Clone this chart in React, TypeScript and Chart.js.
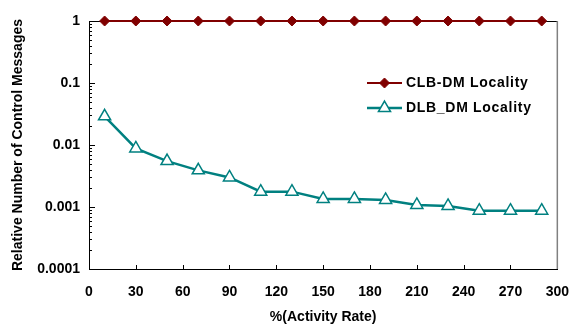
import React, { useEffect, useRef } from 'react';
import { Chart, registerables } from 'chart.js';

Chart.register(...registerables);

const xValues = [10, 30, 50, 70, 90, 110, 130, 150, 170, 190, 210, 230, 250, 270, 290];
const clbValues = [1, 1, 1, 1, 1, 1, 1, 1, 1, 1, 1, 1, 1, 1, 1];
const dlbValues = [0.029, 0.0088, 0.0055, 0.0039, 0.003, 0.00177, 0.00177, 0.00135, 0.00135, 0.0013, 0.00108, 0.00104, 0.00087, 0.00087, 0.00087];
const seriesNames = ['CLB-DM Locality', 'DLB_DM Locality'];
const xTicks = [0, 30, 60, 90, 120, 150, 180, 210, 240, 270, 300];
const yTickValues = [0.0001, 0.001, 0.01, 0.1, 1];
const yTickLabels = ['0.0001', '0.001', '0.01', '0.1', '1'];
const xTitle = '%(Activity Rate)';
const yTitle = 'Relative Number of Control Messages';

const FONT_FAMILY = "'Liberation Sans', Arial, sans-serif";
const RED = '#800000';
const TEAL = '#008080';

const decorPlugin = {
  id: 'decor',
  beforeDatasetsDraw(chart: any) {
    const { ctx, chartArea: a, scales } = chart;
    const y = scales.y;
    const x = scales.x;
    ctx.save();
    ctx.strokeStyle = '#000';
    ctx.lineWidth = 1;
    ctx.beginPath();
    for (let d = 0; d < yTickValues.length; d++) {
      const base = yTickValues[d];
      const py = Math.round(y.getPixelForValue(base)) + 0.5;
      ctx.moveTo(a.left, py);
      ctx.lineTo(a.left + 6, py);
      if (d < yTickValues.length - 1) {
        for (let k = 2; k <= 9; k++) {
          const p = Math.round(y.getPixelForValue(base * k)) + 0.5;
          ctx.moveTo(a.left, p);
          ctx.lineTo(a.left + 3, p);
        }
      }
    }
    for (const t of xTicks) {
      const px = Math.round(x.getPixelForValue(t)) + 0.5;
      ctx.moveTo(px, a.bottom);
      ctx.lineTo(px, a.bottom - 4);
    }
    ctx.stroke();
    // top border
    ctx.beginPath();
    ctx.moveTo(a.left, Math.round(a.top) + 0.5);
    ctx.lineTo(a.right, Math.round(a.top) + 0.5);
    ctx.stroke();
    // right border
    ctx.strokeStyle = '#808080';
    ctx.lineWidth = 1.5;
    ctx.beginPath();
    ctx.moveTo(a.right, a.top);
    ctx.lineTo(a.right, a.bottom);
    ctx.stroke();
    ctx.restore();
  },
  afterDraw(chart: any) {
    const { ctx } = chart;
    const rows = [83, 108];
    const x0 = 367;
    const x1 = 402;
    const mx = (x0 + x1) / 2;
    ctx.save();
    chart.data.datasets.forEach((ds: any, i: number) => {
      const yy = rows[i];
      ctx.strokeStyle = ds.borderColor;
      ctx.lineWidth = ds.borderWidth;
      ctx.beginPath();
      ctx.moveTo(x0, yy);
      ctx.lineTo(x1, yy);
      ctx.stroke();
      ctx.beginPath();
      const r = ds.pointRadius;
      if (ds.pointStyle === 'rectRot') {
        ctx.moveTo(mx - r, yy);
        ctx.lineTo(mx, yy - r);
        ctx.lineTo(mx + r, yy);
        ctx.lineTo(mx, yy + r);
      } else {
        ctx.moveTo(mx, yy - r);
        ctx.lineTo(mx + Math.sin((2 * Math.PI) / 3) * r, yy - Math.cos((2 * Math.PI) / 3) * r);
        ctx.lineTo(mx + Math.sin((4 * Math.PI) / 3) * r, yy - Math.cos((4 * Math.PI) / 3) * r);
      }
      ctx.closePath();
      ctx.fillStyle = ds.pointBackgroundColor;
      ctx.fill();
      ctx.strokeStyle = ds.pointBorderColor;
      ctx.lineWidth = ds.pointBorderWidth;
      ctx.stroke();
      ctx.fillStyle = '#000';
      ctx.font = `bold 14px ${FONT_FAMILY}`;
      (ctx as any).letterSpacing = '0.7px';
      ctx.textAlign = 'left';
      ctx.textBaseline = 'middle';
      ctx.fillText(ds.label, 406, yy);
      (ctx as any).letterSpacing = '0px';
    });
    ctx.restore();
  },
};

export default function App() {
  const canvasRef = useRef<HTMLCanvasElement | null>(null);

  useEffect(() => {
    document.body.style.margin = '0';
    const canvas = canvasRef.current;
    if (!canvas) return;
    const font = { family: FONT_FAMILY, size: 14, weight: 'bold' as const };
    const chart = new Chart(canvas, {
      type: 'line',
      data: {
        datasets: [
          {
            label: seriesNames[0],
            data: xValues.map((x, i) => ({ x, y: clbValues[i] })),
            borderColor: RED,
            backgroundColor: RED,
            borderWidth: 2,
            pointStyle: 'rectRot',
            pointRadius: 5,
            pointBackgroundColor: RED,
            pointBorderColor: RED,
            pointBorderWidth: 1,
            clip: false,
            tension: 0,
          },
          {
            label: seriesNames[1],
            data: xValues.map((x, i) => ({ x, y: dlbValues[i] })),
            borderColor: TEAL,
            backgroundColor: '#ffffff',
            borderWidth: 2.5,
            pointStyle: 'triangle',
            pointRadius: 7,
            pointBackgroundColor: '#ffffff',
            pointBorderColor: TEAL,
            pointBorderWidth: 1.5,
            clip: false,
            tension: 0,
          },
        ] as any,
      },
      options: {
        animation: false,
        responsive: false,
        layout: { padding: { top: 21, right: 15, left: 0, bottom: 0 } },
        plugins: {
          legend: { display: false },
          tooltip: { enabled: false },
        },
        scales: {
          x: {
            type: 'linear',
            min: 0,
            max: 300,
            afterBuildTicks: (s: any) => {
              s.ticks = xTicks.map((v) => ({ value: v }));
            },
            afterFit: (s: any) => {
              s.height = 57;
            },
            grid: { display: false, drawTicks: false },
            border: { display: true, color: '#000', width: 1 },
            ticks: { font, color: '#000', padding: 15, maxRotation: 0, autoSkip: false },
            title: { display: true, text: xTitle, font, color: '#000', padding: { top: 0, bottom: 0 } },
          },
          y: {
            type: 'logarithmic',
            min: 0.0001,
            max: 1,
            afterBuildTicks: (s: any) => {
              s.ticks = yTickValues.map((v) => ({ value: v }));
            },
            afterFit: (s: any) => {
              s.width = 89;
            },
            grid: { display: false, drawTicks: false },
            border: { display: true, color: '#000', width: 1 },
            ticks: {
              font,
              color: '#000',
              padding: 9,
              autoSkip: false,
              callback: (v: any) => {
                const i = yTickValues.indexOf(Number(v));
                return i >= 0 ? yTickLabels[i] : '';
              },
            },
            title: { display: true, text: yTitle, font, color: '#000', padding: { top: 10, bottom: 0 } },
          },
        },
      } as any,
      plugins: [decorPlugin],
    });
    return () => chart.destroy();
  }, []);

  return (
    <div style={{ width: 584, height: 326 }}>
      <canvas ref={canvasRef} width={584} height={326} style={{ display: 'block' }} />
    </div>
  );
}
